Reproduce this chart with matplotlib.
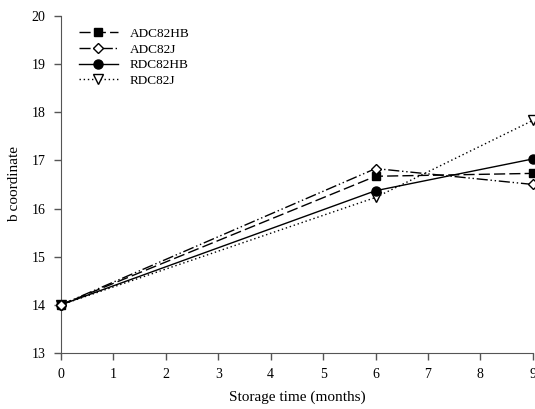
import matplotlib.pyplot as plt

plt.rcParams['font.family'] = ['Liberation Serif', 'DejaVu Serif']

months = [0, 6, 9]
adc82hb = [14.0, 16.67, 16.73]
adc82j = [14.0, 16.83, 16.50]
rdc82hb = [14.0, 16.37, 17.03]
rdc82j = [14.0, 16.23, 17.83]

fig = plt.figure(figsize=(5.35, 4.09), dpi=100)
ax = fig.add_axes([0.114, 0.137, 0.882, 0.824])

ax.plot(months, adc82hb, color='black', lw=1, linestyle=(0, (8, 3)),
        marker='s', ms=6, mfc='black', label='ADC82HB', clip_on=False, zorder=4)
ax.plot(months, adc82j, color='black', lw=1, linestyle=(0, (8, 2, 1, 2, 1, 2)),
        marker='D', ms=5.5, mfc='white', label='ADC82J', clip_on=False, zorder=6)
ax.plot(months, rdc82hb, color='black', lw=1, linestyle='-',
        marker='o', ms=6.5, mfc='black', label='RDC82HB', clip_on=False, zorder=5)
ax.plot(months, rdc82j, color='black', lw=1, linestyle=(0, (1, 2)),
        marker='v', ms=6.5, mfc='white', label='RDC82J', clip_on=False, zorder=3)

ax.set_xlim(0, 9)
ax.set_ylim(13, 20)
ax.set_xticks(range(0, 10))
ax.set_yticks(range(13, 21))
ax.spines['top'].set_visible(False)
ax.spines['right'].set_visible(False)
for s in ['left', 'bottom']:
    ax.spines[s].set_color('#555555')
ax.tick_params(direction='out', length=5, width=1, colors='#555555',
               labelcolor='black', labelsize=10, pad=6)

ax.set_xlabel('Storage time (months)', fontsize=11, labelpad=7)
ax.set_ylabel('b coordinate', fontsize=11, labelpad=8)

ax.legend(loc='upper left', frameon=False, fontsize=9.5, handlelength=3.0,
          handletextpad=0.9, labelspacing=0.25, bbox_to_anchor=(0.012, 1.0))

fig.savefig('out.png', dpi=100)
